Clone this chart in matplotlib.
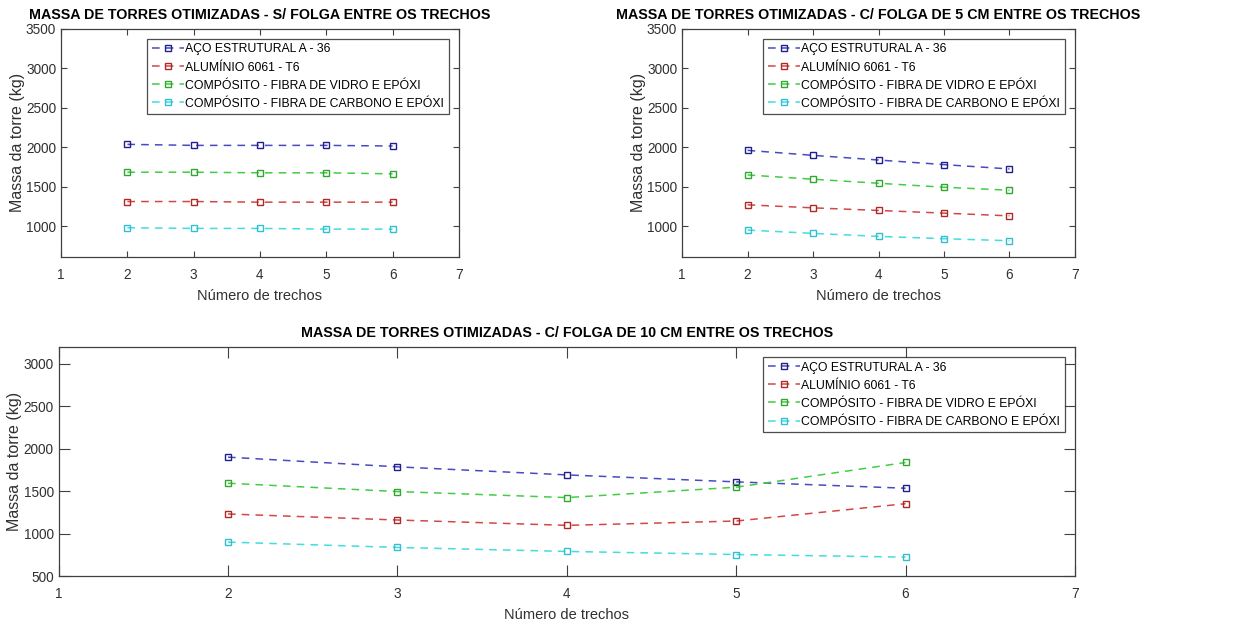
import matplotlib
matplotlib.use('Agg')
import matplotlib.pyplot as plt

plt.rcParams['font.family'] = ['Liberation Sans', 'DejaVu Sans']

trechos = [2, 3, 4, 5, 6]
materiais = ['AÇO ESTRUTURAL A - 36',
             'ALUMÍNIO 6061 - T6',
             'COMPÓSITO - FIBRA DE VIDRO E EPÓXI',
             'COMPÓSITO - FIBRA DE CARBONO E EPÓXI']

# sem folga
aco_0 = [2038, 2025, 2025, 2025, 2017]
alu_0 = [1315, 1315, 1307, 1307, 1307]
vidro_0 = [1686, 1686, 1678, 1678, 1665]
carbono_0 = [983, 975, 975, 966, 966]

# folga de 5 cm
aco_5 = [1962, 1899, 1840, 1782, 1727]
alu_5 = [1273, 1235, 1202, 1168, 1134]
vidro_5 = [1651, 1597, 1546, 1496, 1458]
carbono_5 = [954, 912, 874, 845, 819]

# folga de 10 cm
aco_10 = [1902, 1788, 1693, 1611, 1536]
alu_10 = [1233, 1162, 1099, 1150, 1354]
vidro_10 = [1595, 1497, 1426, 1548, 1839]
carbono_10 = [902, 839, 792, 756, 725]

titulos = ['MASSA DE TORRES OTIMIZADAS - S/ FOLGA ENTRE OS TRECHOS',
           'MASSA DE TORRES OTIMIZADAS - C/ FOLGA DE 5 CM ENTRE OS TRECHOS',
           'MASSA DE TORRES OTIMIZADAS - C/ FOLGA DE 10 CM ENTRE OS TRECHOS']

cores_linha = ['#4a4ac0', '#d04848', '#44cc44', '#44dcdc']
cores_marca = ['#20208a', '#b02828', '#30a830', '#30c0d0']


def desenha(ax, series, titulo, ylim, yticks, ticklen):
    for s, nome, cl, cm in zip(series, materiais, cores_linha, cores_marca):
        ax.plot(trechos, s, linestyle=(0, (5, 4)), color=cl, lw=1.1,
                marker='s', markersize=5, markerfacecolor='none',
                markeredgecolor=cm, markeredgewidth=1.0, label=nome)
    ax.set_xlim(1, 7)
    ax.set_ylim(*ylim)
    ax.set_xticks([1, 2, 3, 4, 5, 6, 7])
    ax.set_yticks(yticks)
    ax.tick_params(direction='in', top=True, right=True, length=ticklen,
                   labelsize=9.8, colors='#404040', labelcolor='#303030')
    ax.tick_params(axis='x', pad=8)
    for sp in ax.spines.values():
        sp.set_color('#404040')
        sp.set_linewidth(0.9)
    ax.set_title(titulo, fontsize=10.3, fontweight='bold', pad=7)
    ax.set_xlabel('Número de trechos', fontsize=10.5, color='#303030', labelpad=5)
    ax.set_ylabel('Massa da torre (kg)', fontsize=11.5, color='#303030', labelpad=1)
    leg = ax.legend(loc='upper right', fontsize=8.8, frameon=True, fancybox=False,
                    edgecolor='#202020', borderpad=0.35, labelspacing=0.5,
                    handlelength=2.6, handletextpad=0.15, borderaxespad=0.85)
    leg.get_frame().set_linewidth(0.9)


fig = plt.figure(figsize=(12.47, 6.25), dpi=100)
ax1 = fig.add_axes([0.049, 0.589, 0.319, 0.365])
ax2 = fig.add_axes([0.547, 0.589, 0.315, 0.365])
ax3 = fig.add_axes([0.047, 0.078, 0.815, 0.367])

desenha(ax1, [aco_0, alu_0, vidro_0, carbono_0], titulos[0],
        (615, 3500), [1000, 1500, 2000, 2500, 3000, 3500], 4)
desenha(ax2, [aco_5, alu_5, vidro_5, carbono_5], titulos[1],
        (615, 3500), [1000, 1500, 2000, 2500, 3000, 3500], 4)
desenha(ax3, [aco_10, alu_10, vidro_10, carbono_10], titulos[2],
        (500, 3200), [500, 1000, 1500, 2000, 2500, 3000], 8)

fig.savefig('out.png', dpi=100, facecolor='white')
